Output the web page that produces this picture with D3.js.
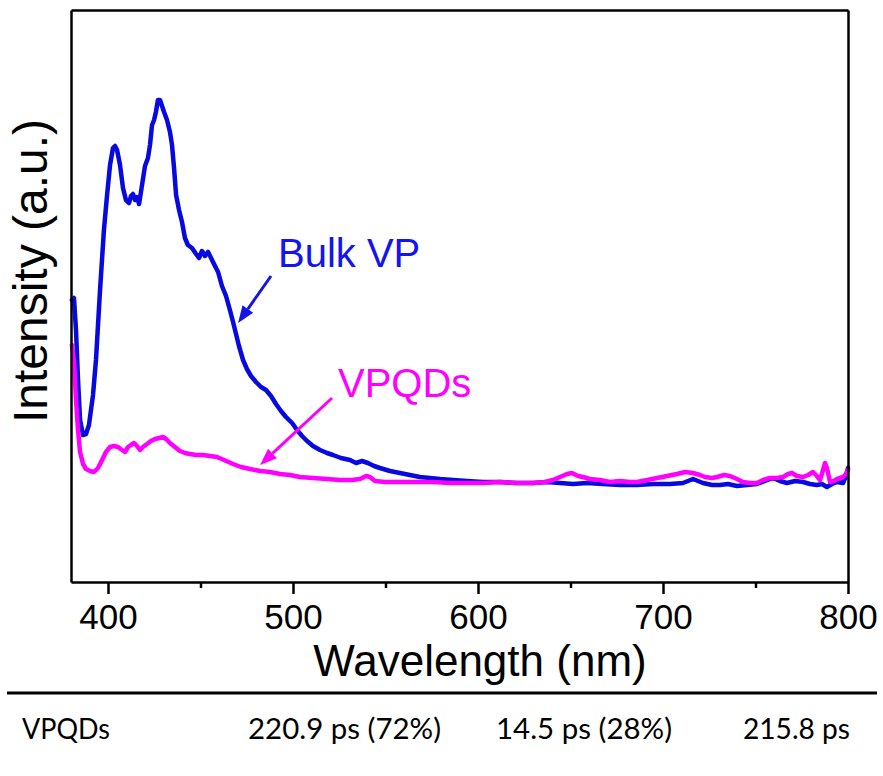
<!DOCTYPE html>
<html>
<head>
<meta charset="utf-8">
<script src="https://cdn.jsdelivr.net/npm/d3@7/dist/d3.min.js"></script>
<style>
  html, body { margin: 0; padding: 0; background: #fff; }
  svg { display: block; }
</style>
</head>
<body>
<svg id="chart" width="883" height="776"></svg>
<script>
// ---------------- DATA ----------------
const bulkWavelength = [380.5,381.6,382.7,383.8,384.9,386.5,388.1,389.7,391.9,393.5,395.7,397.8,399.5,401.1,402.7,403.8,404.9,406.5,408.1,409.7,411.4,412.4,413.5,414.6,415.7,416.8,418.4,420.0,421.6,422.7,423.8,424.9,425.9,427.0,428.1,429.2,430.3,431.9,433.5,434.6,435.7,436.8,438.4,440.0,441.6,443.2,445.4,447.6,449.2,450.8,452.4,454.1,455.7,457.3,459.5,461.6,463.8,465.9,467.6,469.2,470.8,473.0,475.1,477.3,480.0,482.7,485.4,488.1,490.8,493.5,496.2,499.5,502.2,504.9,507.6,510.8,514.6,518.4,521.6,525.9,530.8,534.1,537.3,540.5,543.8,547.0,552.4,557.8,563.2,568.6,574.1,579.5,586.5,594.1,602.7,611.9,620.5,629.7,637.3,644.3,651.4,658.9,667.6,676.8,685.9,694.6,703.8,710.8,716.2,721.6,726.5,730.8,735.1,740.0,745.4,750.8,755.1,759.5,763.2,767.0,771.4,775.7,779.5,783.2,785.9,788.6,791.4,794.1,797.3,798.9,800.0];
const bulkIntensity = [282,284,252,202,162,147,148,157,187,222,292,352,387,417,434,436,432,417,394,382,379,386,388,382,385,378,397,416,424,437,457,462,470,482,482,476,470,462,450,437,414,387,372,360,344,337,334,328,324,331,326,330,324,318,310,296,286,272,260,248,236,222,213,206,200,195,192,186,178,171,165,159,152,146,141,136,132,129,127,124,122,119,121,119,116,114,111,109,107,105,104,103,102,101,100,100,99,99,100,99,98,99,98,97,97,98,98,99,103,99,97,97,98,96,97,98,101,104,101,99,101,100,98,97,98,95,98,100,99,106,114];

const qdWavelength = [380.5,381.6,382.7,383.8,384.9,386.5,388.1,390.3,392.4,394.6,396.8,398.9,401.1,403.2,405.4,407.6,409.2,410.8,412.4,414.1,415.7,417.3,418.9,421.1,423.2,425.4,427.6,429.7,431.4,433.5,436.2,438.9,441.6,444.3,447.6,451.4,455.1,458.9,462.7,467.6,471.9,476.8,482.2,487.6,493.0,498.4,503.8,510.8,518.4,525.4,531.9,536.2,539.5,541.6,544.3,549.7,557.8,567.0,575.7,584.9,594.1,602.7,611.9,621.1,629.7,636.2,640.5,644.3,648.1,650.8,654.1,656.8,660.5,665.9,671.4,676.8,682.2,686.0,691.4,696.8,702.2,707.6,711.9,716.2,720.0,722.7,726.5,729.2,733.0,736.2,740.0,743.2,747.0,750.8,754.1,757.8,761.6,764.9,767.6,769.7,772.4,775.7,778.4,781.1,783.2,784.9,786.5,787.6,788.6,790.3,792.4,794.1,797.3,798.9,800.0];
const qdIntensity = [237,222,182,152,130,118,113,111,110,114,122,130,135,136,135,132,130,135,137,139,136,132,135,138,141,143,144,145,143,139,135,131,129,128,127,127,126,125,122,118,115,113,111,110,108,107,105,104,103,102,102,103,106,105,101,100,100,100,100,99,99,99,100,99,99,100,102,105,108,109,106,105,103,102,100,101,100,100,102,104,106,108,110,109,107,105,104,105,107,106,103,100,99,99,102,104,104,105,108,109,106,105,107,110,106,102,112,119,114,100,101,103,105,108,112];

const xTicks = [400, 500, 600, 700, 800];
const xMinorTicks = [450, 550, 650, 750];
const xLabel = "Wavelength (nm)";
const yLabel = "Intensity (a.u.)";

// annotations (data coordinates: wavelength, intensity)
const seriesLabels = [
  { text: "Bulk VP", x: 491.9, y: 315, color: "#1414f0" },
  { text: "VPQDs",   x: 524.3, y: 185, color: "#ff00ff" }
];
const arrows = [
  { x1: 488.1, y1: 306, x2: 470.3, y2: 259, color: "#1414e6" },
  { x1: 521.1, y1: 184, x2: 482.2, y2: 117, color: "#ff00ff" }
];

const tableRow = ["VPQDs", "220.9 ps (72%)", "14.5 ps (28%)", "215.8 ps"];

// ---------------- LAYOUT ----------------
const svg = d3.select("#chart");
const L = 71, R = 848, T = 10, B = 582;

const x = d3.scaleLinear().domain([380, 800]).range([L, R]);
const y = d3.scaleLinear().domain([0, 572]).range([B, T]);

const g = svg.append("g");

// curves
const line = d3.line().x((d) => x(d[0])).y((d) => y(d[1])).curve(d3.curveLinear);
const bulk = bulkWavelength.map((w, i) => [w, bulkIntensity[i]]);
const qd = qdWavelength.map((w, i) => [w, qdIntensity[i]]);

g.append("path").datum(bulk)
  .attr("d", line).attr("fill", "none")
  .attr("stroke", "#0808e0").attr("stroke-width", 4.5)
  .attr("stroke-linejoin", "round").attr("stroke-linecap", "round");

g.append("path").datum(qd)
  .attr("d", line).attr("fill", "none")
  .attr("stroke", "#ff00ff").attr("stroke-width", 4.5)
  .attr("stroke-linejoin", "round").attr("stroke-linecap", "round");

// axes frame
const axisFont = "'Liberation Sans', Arial, sans-serif";

const xAxis = g.append("g").attr("transform", `translate(0,${B})`)
  .call(d3.axisBottom(x).tickValues(xTicks).tickSize(12).tickSizeOuter(0).tickPadding(10).tickFormat(d3.format("d")));
xAxis.select(".domain").attr("stroke", "#000").attr("stroke-width", 2.5);
xAxis.selectAll(".tick line").attr("stroke", "#000").attr("stroke-width", 2.5);
xAxis.selectAll(".tick text").attr("font-family", axisFont).attr("font-size", 35).attr("fill", "#000");

const xMinor = g.append("g").attr("transform", `translate(0,${B})`)
  .call(d3.axisBottom(x).tickValues(xMinorTicks).tickSize(6).tickSizeOuter(0).tickFormat(""));
xMinor.select(".domain").remove();
xMinor.selectAll(".tick line").attr("stroke", "#000").attr("stroke-width", 2.5);

const yAxis = g.append("g").attr("transform", `translate(${L},0)`)
  .call(d3.axisLeft(y).tickValues([]).tickSizeOuter(0));
yAxis.select(".domain").attr("stroke", "#000").attr("stroke-width", 2.5);

const yAxisR = g.append("g").attr("transform", `translate(${R},0)`)
  .call(d3.axisRight(y).tickValues([]).tickSizeOuter(0));
yAxisR.select(".domain").attr("stroke", "#000").attr("stroke-width", 2.5);

const xAxisT = g.append("g").attr("transform", `translate(0,${T})`)
  .call(d3.axisTop(x).tickValues([]).tickSizeOuter(0));
xAxisT.select(".domain").attr("stroke", "#000").attr("stroke-width", 2.5);

// axis titles
svg.append("text")
  .attr("x", 480).attr("y", 676)
  .attr("text-anchor", "middle")
  .attr("font-family", axisFont).attr("font-size", 44).attr("fill", "#000")
  .text(xLabel);

svg.append("text")
  .attr("transform", "translate(47,271) rotate(-90)")
  .attr("text-anchor", "middle")
  .attr("font-family", axisFont).attr("font-size", 48).attr("fill", "#000")
  .text(yLabel);

// arrows
arrows.forEach((a) => {
  const x1 = x(a.x1), y1 = y(a.y1), x2 = x(a.x2), y2 = y(a.y2);
  const ang = Math.atan2(y2 - y1, x2 - x1);
  const hl = 17, hw = 6.5;
  const bx = x2 - hl * Math.cos(ang), by = y2 - hl * Math.sin(ang);
  g.append("line")
    .attr("x1", x1).attr("y1", y1).attr("x2", bx).attr("y2", by)
    .attr("stroke", a.color).attr("stroke-width", 3);
  const px = -Math.sin(ang) * hw, py = Math.cos(ang) * hw;
  g.append("path")
    .attr("d", `M${x2},${y2}L${bx + px},${by + py}L${bx - px},${by - py}Z`)
    .attr("fill", a.color);
});

// series labels
seriesLabels.forEach((s) => {
  g.append("text")
    .attr("x", x(s.x)).attr("y", y(s.y))
    .attr("font-family", axisFont).attr("font-size", 40).attr("fill", s.color)
    .text(s.text);
});

// table row below
svg.append("line")
  .attr("x1", 7).attr("x2", 877).attr("y1", 693).attr("y2", 693)
  .attr("stroke", "#000").attr("stroke-width", 3);

const cellX = [22, 248, 496, 743];
const cellW = [88, 193, 176, 107];
const tableFont = "Lato, 'Open Sans', sans-serif";
tableRow.forEach((t, i) => {
  svg.append("text")
    .attr("x", cellX[i]).attr("y", 739)
    .attr("font-family", tableFont).attr("font-size", 28).attr("fill", "#000")
    .attr("textLength", cellW[i]).attr("lengthAdjust", "spacingAndGlyphs")
    .text(t);
});
</script>
</body>
</html>
